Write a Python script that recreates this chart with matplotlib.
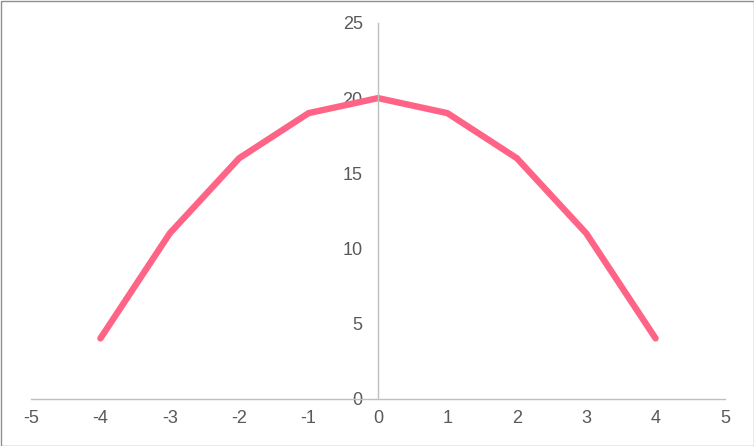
import matplotlib as mp
from matplotlib import pyplot as plt
from matplotlib.patches import Rectangle

x_values = [-4, -3, -2, -1, 0, 1, 2, 3, 4]
y_values = [4, 11, 16, 19, 20, 19, 16, 11, 4]
x_ticks = [-5, -4, -3, -2, -1, 0, 1, 2, 3, 4, 5]
y_ticks = [0, 5, 10, 15, 20, 25]

plt.rcParams['font.family'] = ['Liberation Sans', 'DejaVu Sans']
plt.rcParams['axes.unicode_minus'] = False

fig = plt.figure(figsize=(7.54, 4.46), dpi=100)
ax = fig.add_axes([31 / 754, 47.5 / 446, 694 / 754, 375.5 / 446])

line_color = "#ff6385"
axis_color = "#bfbfbf"
text_color = "#595959"

ax.plot(x_values, y_values, color=line_color, linewidth=4.6,
        solid_capstyle='round', solid_joinstyle='round')

ax.set_xlim(-5, 5)
ax.set_ylim(0, 25)
ax.set_xticks(x_ticks)
ax.set_yticks(y_ticks)

ax.spines['left'].set_position(('data', 0))
ax.spines['bottom'].set_position(('data', 0))
ax.spines['right'].set_visible(False)
ax.spines['top'].set_visible(False)
for s in ['left', 'bottom']:
    ax.spines[s].set_color(axis_color)
    ax.spines[s].set_linewidth(1.0)

ax.tick_params(axis='both', length=0, labelsize=13, colors=text_color)
ax.tick_params(axis='x', pad=8)
ax.tick_params(axis='y', pad=11)

fig.patches.append(Rectangle((0.5 / 754, 0.5 / 446), 753 / 754, 445 / 446,
                             transform=fig.transFigure, fill=False,
                             edgecolor="#8f8f8f", linewidth=1.0))

fig.savefig("out.png", dpi=100)
